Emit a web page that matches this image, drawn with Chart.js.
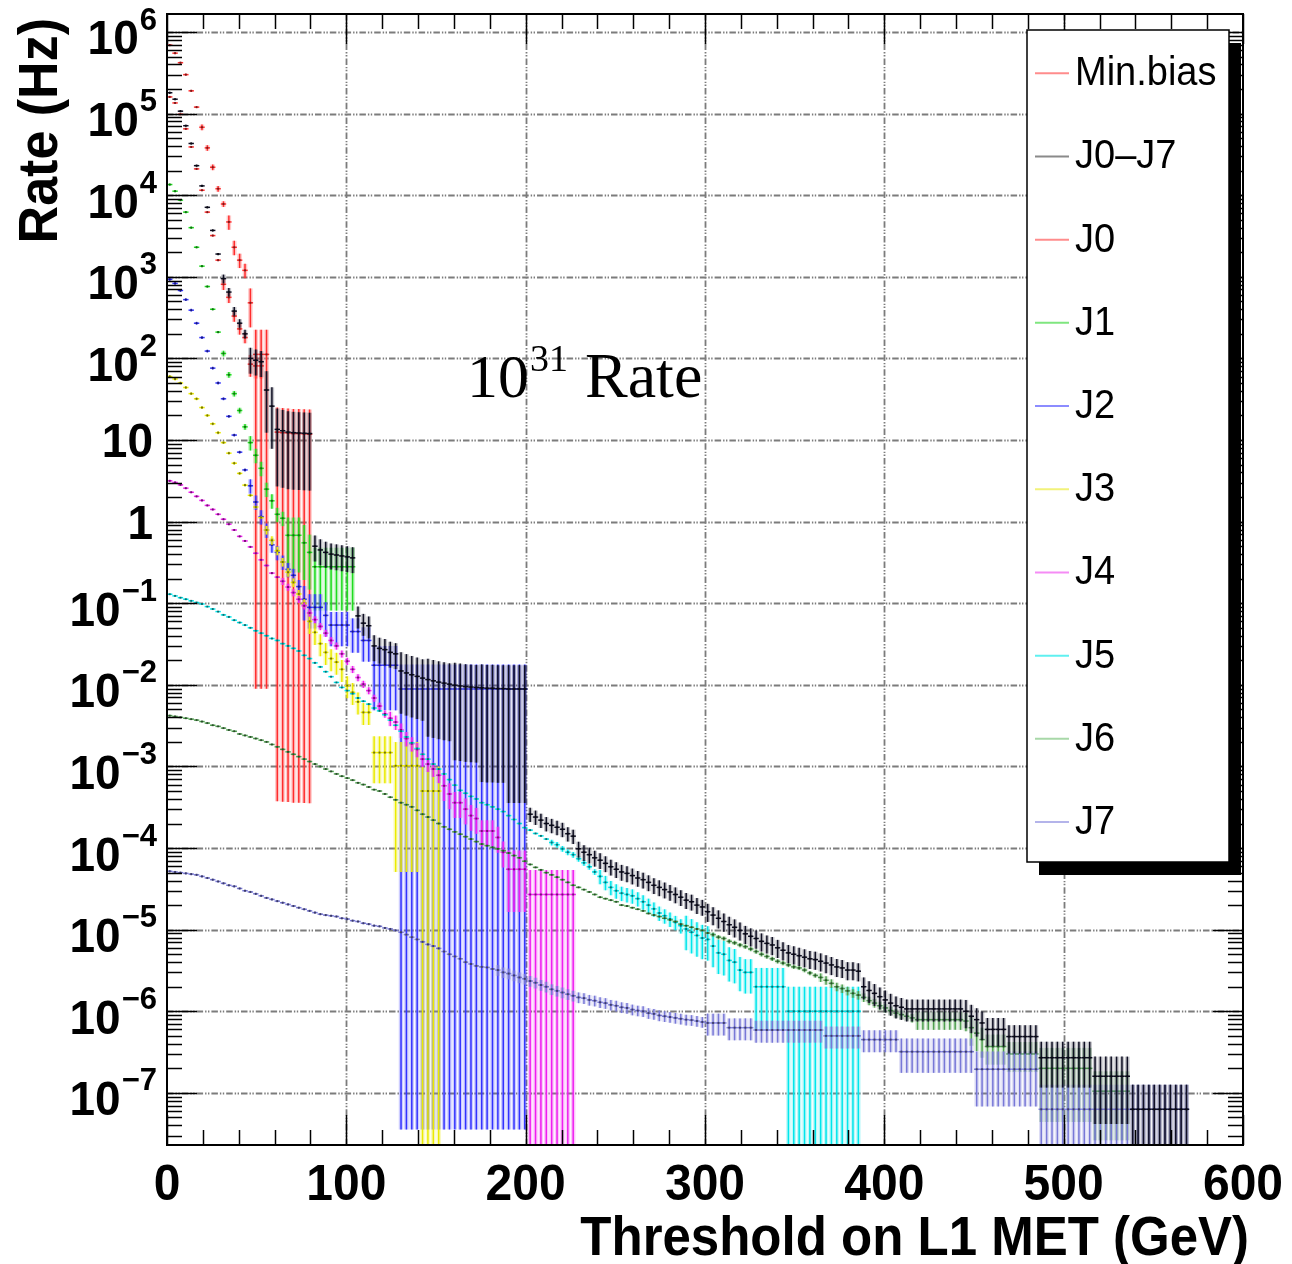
<!DOCTYPE html>
<html>
<head>
<meta charset="utf-8">
<title>Rate vs L1 MET threshold</title>
<script src="https://cdn.jsdelivr.net/npm/chart.js@4.4.1/dist/chart.umd.min.js"></script>
<style>
  html, body { margin: 0; padding: 0; background: #fff; }
  #wrap { width: 1292px; height: 1264px; }
</style>
</head>
<body>
<div id="wrap"><canvas id="rate-chart" width="1292" height="1264"></canvas></div>
<script>
// Threshold histograms: 3 GeV bins starting at 0 GeV
const binWidth = 3;
const firstBinCentre = 1.5;

const xTickLabels = [0, 100, 200, 300, 400, 500, 600];
const yDecades = [-7, -6, -5, -4, -3, -2, -1, 0, 1, 2, 3, 4, 5, 6];

// Rates in Hz per bin (null = empty bin); errors as [fromBin, toBin, relative error]
const minBiasRate = [
    6.9e5, 5.5e5, 4.2e5, 3.0e5, 1.9e5, 1.2e5, 6.8e4, 3.8e4, 2.2e4, 1.2e4,
    7.8e3, 4.7e3, 2.3e3, 1.6e3, 1.2e3, 480, 112, 112, 112, null,
    12.5, 12.3, 12.2, 12, 12, 11.9, 11.8,
];
const minBiasErr = [[0, 5, 0.03], [6, 10, 0.08], [11, 14, 0.2], [15, 15, 0.5], [16, 18, 0.99992], [20, 26, 0.99997]];

const jetSumRate = [
    1.8e5, 1.5e5, 1.07e5, 7.1e4, 4.3e4, 2.3e4, 1.3e4, 7.1e3, 3.7e3, 1.9e3,
    950, 650, 380, 270, 200, 100, 95, 91, 41, 26,
    13.5, 13, 12.5, 12.3, 12.2, 12.1, 12, 0.5, 0.45, 0.42,
    0.40, 0.39, 0.38, 0.37, 0.36, 0.070, 0.057, 0.053, 0.030, 0.028,
    0.027, 0.025, 0.024, 0.0148, 0.0140, 0.0133, 0.0127, 0.0121, 0.0116, 0.0112,
    0.0108, 0.0105, 0.0102, 0.0099, 0.0097, 0.0095, 0.0094, 0.0093, 0.0092, 0.0091,
    0.0091, 0.0090, 0.0090, 0.0089, 0.0089, 0.0089, 0.0089, 2.6e-4, 2.4e-4, 2.2e-4,
    2.0e-4, 1.9e-4, 1.8e-4, 1.7e-4, 1.5e-4, 1.4e-4, 9.8e-5, 8.9e-5, 8.3e-5, 7.6e-5,
    7.1e-5, 6.5e-5, 5.9e-5, 5.5e-5, 5.1e-5, 4.9e-5, 4.6e-5, 4.3e-5, 4.1e-5, 3.8e-5,
    3.5e-5, 3.3e-5, 3.1e-5, 2.9e-5, 2.7e-5, 2.5e-5, 2.3e-5, 2.2e-5, 2.0e-5, 1.9e-5,
    1.66e-5, 1.51e-5, 1.38e-5, 1.26e-5, 1.15e-5, 1.07e-5, 9.8e-6, 8.9e-6, 8.3e-6, 7.8e-6,
    7.2e-6, 6.8e-6, 6.5e-6, 6.0e-6, 5.6e-6, 5.2e-6, 5.0e-6, 4.8e-6, 4.6e-6, 4.4e-6,
    4.3e-6, 4.1e-6, 3.9e-6, 3.7e-6, 3.5e-6, 3.4e-6, 3.2e-6, 3.2e-6, 3.1e-6, 2.0e-6,
    1.8e-6, 1.66e-6, 1.51e-6, 1.38e-6, 1.26e-6, 1.17e-6, 1.12e-6, 1.07e-6, 1.07e-6, 1.07e-6,
    1.07e-6, 1.07e-6, 1.07e-6, 1.07e-6, 1.07e-6, 1.07e-6, 1.07e-6, 1.07e-6, 1.0e-6, 8.7e-7,
    7.9e-7, 7.2e-7, 6.0e-7, 6.0e-7, 6.0e-7, 6.0e-7, 4.9e-7, 4.9e-7, 4.9e-7, 4.9e-7,
    4.9e-7, 4.9e-7, 2.7e-7, 2.7e-7, 2.7e-7, 2.7e-7, 2.7e-7, 2.7e-7, 2.7e-7, 2.7e-7,
    2.7e-7, 2.7e-7, 1.6e-7, 1.6e-7, 1.6e-7, 1.6e-7, 1.6e-7, 1.6e-7, 1.6e-7, 6.3e-8,
    6.3e-8, 6.3e-8, 6.3e-8, 6.3e-8, 6.3e-8, 6.3e-8, 6.3e-8, 6.3e-8, 6.3e-8, 6.3e-8,
];
const jetSumErr = [
    [0, 9, 0.03], [10, 14, 0.12], [15, 17, 0.35], [18, 19, 0.7], [20, 26, 0.8], [27, 34, 0.35],
    [35, 37, 0.3], [38, 42, 0.35], [43, 47, 0.7], [48, 52, 0.8], [53, 57, 0.88], [58, 62, 0.93],
    [63, 66, 0.96], [67, 75, 0.2], [76, 99, 0.22], [100, 128, 0.25], [129, 147, 0.3],
    [148, 161, 0.38], [162, 171, 0.57], [172, 178, 0.74], [179, 189, 1],
];

const j0Rate = [
    1.6e5, 1.35e5, 9.8e4, 6.5e4, 3.9e4, 2.1e4, 1.15e4, 6.2e3, 3.2e3, 1.6e3,
    810, 560, 330, 230, 180, 85, 81, 81,
];
const j0Err = [[0, 9, 0.03], [10, 14, 0.15], [15, 17, 0.3]];

const j1Rate = [
    1.35e4, 1.12e4, 8.7e3, 6.2e3, 4.0e3, 2.3e3, 1.35e3, 760, 400, 210,
    115, 63, 37, 23, 14.5, 9.3, 6.5, 4.5, 2.5, 1.8,
    1.23, 1.1, 0.68, 0.68, 0.68, 0.55, 0.42, 0.28, 0.28, 0.28,
    0.28, 0.28, 0.28, 0.28, 0.28,
];
const j1Err = [[0, 9, 0.03], [10, 14, 0.08], [15, 21, 0.2], [22, 26, 0.65], [27, 34, 0.71]];

const j2Rate = [
    930, 830, 680, 525, 390, 270, 180, 123, 76, 50,
    32, 19.5, 11.5, 7.1, 4.3, 2.75, 1.74, 1.15, 0.79, 0.52,
    0.42, 0.32, 0.26, 0.22, 0.16, 0.112, 0.089, 0.089, 0.089, 0.071,
    0.054, 0.054, 0.054, 0.054, 0.045, 0.045, 0.035, 0.035, 0.0174, 0.0174,
    0.0174, 0.0174, 0.0174, 0.0089, 0.0089, 0.0089, 0.0089, 0.0089, 0.0089, 0.0089,
    0.0089, 0.0089, 0.0089, 0.0089, 0.0089, 0.0089, 0.0089, 0.0089, 0.0089, 0.0089,
    0.0089, 0.0089, 0.0089, 0.0089, 0.0089, 0.0089, 0.0089,
];
const j2Err = [[0, 14, 0.04], [15, 24, 0.2], [25, 37, 0.45], [38, 42, 0.72], [43, 66, 0.999996]];

const j3Rate = [
    60, 56, 50, 44, 37, 32, 25, 20, 15.8, 12.3,
    9.3, 6.9, 5.2, 3.9, 2.8, 2.1, 1.51, 1.12, 0.79, 0.59,
    0.44, 0.32, 0.24, 0.18, 0.13, 0.10, 0.060, 0.044, 0.032, 0.025,
    0.021, 0.019, 0.0155, 0.0098, 0.0081, 0.0062, 0.0046, 0.0046, 0.00148, 0.00148,
    0.00148, 0.00148, 0.00102, 0.00102, 0.00102, 0.00102, 0.00102, 0.0005, 0.0005, 0.0005,
    0.0005,
];
const j3Err = [[0, 17, 0.04], [18, 25, 0.12], [26, 37, 0.3], [38, 41, 0.58], [42, 46, 0.95], [47, 50, 1]];

const j4Rate = [
    3.16, 3.02, 2.82, 2.57, 2.29, 2.04, 1.82, 1.58, 1.41, 1.23,
    1.07, 0.93, 0.79, 0.66, 0.58, 0.49, 0.41, 0.34, 0.29, 0.234,
    0.209, 0.186, 0.158, 0.135, 0.112, 0.093, 0.076, 0.063, 0.052, 0.043,
    0.035, 0.030, 0.024, 0.0195, 0.0155, 0.0123, 0.0102, 0.0085, 0.0069, 0.0055,
    0.0044, 0.0039, 0.0035, 0.0028, 0.0022, 0.0019, 0.00162, 0.00123, 0.00107, 0.00093,
    0.00078, 0.00058, 0.00046, 0.00036, 0.00036, 0.0003, 0.00025, 0.00023, 0.000162, 0.000162,
    0.000162, 0.000135, 8.9e-5, 5.5e-5, 5.5e-5, 5.5e-5, 5.5e-5, 2.7e-5, 2.7e-5, 2.7e-5,
    2.7e-5, 2.7e-5, 2.7e-5, 2.7e-5, 2.7e-5, 2.7e-5,
];
const j4Err = [[0, 20, 0.03], [21, 40, 0.1], [41, 50, 0.2], [51, 62, 0.35], [63, 66, 0.7], [67, 75, 1]];

const j5Rate = [
    0.129, 0.123, 0.117, 0.112, 0.107, 0.102, 0.098, 0.091, 0.085, 0.079,
    0.072, 0.068, 0.062, 0.058, 0.054, 0.050, 0.046, 0.043, 0.040, 0.037,
    0.035, 0.032, 0.030, 0.028, 0.026, 0.023, 0.021, 0.0186, 0.0166, 0.0145,
    0.0126, 0.0107, 0.0093, 0.0085, 0.0078, 0.0069, 0.0063, 0.0058, 0.0052, 0.0048,
    0.0043, 0.0037, 0.0032, 0.0027, 0.0023, 0.00195, 0.00166, 0.00141, 0.00123, 0.00107,
    0.00093, 0.00081, 0.00069, 0.00059, 0.00051, 0.00047, 0.00043, 0.0004, 0.00036, 0.00034,
    0.00032, 0.0003, 0.00028, 0.00025, 0.000224, 0.0002, 0.000178, 0.000166, 0.000151, 0.000141,
    0.000129, 0.000117, 0.00011, 9.8e-5, 8.9e-5, 8.3e-5, 7.4e-5, 6.6e-5, 5.9e-5, 5.1e-5,
    4.5e-5, 3.8e-5, 3.3e-5, 3.0e-5, 2.8e-5, 2.7e-5, 2.6e-5, 2.4e-5, 2.2e-5, 2.0e-5,
    1.8e-5, 1.6e-5, 1.48e-5, 1.35e-5, 1.23e-5, 1.12e-5, 1.02e-5, 9.3e-6, 8.5e-6, 7.9e-6,
    7.6e-6, 6.3e-6, 5.2e-6, 5.0e-6, 4.2e-6, 4.0e-6, 3.2e-6, 3.0e-6, 3.0e-6, 2.0e-6,
    2.0e-6, 2.0e-6, 2.0e-6, 2.0e-6, 2.0e-6, 1.0e-6, 1.0e-6, 1.0e-6, 1.0e-6, 1.0e-6,
    1.0e-6, 1.0e-6, 1.0e-6, 1.0e-6, 1.0e-6, 1.0e-6, 1.0e-6, 1.0e-6, 1.0e-6,
];
const j5Err = [[0, 70, 0.02], [71, 79, 0.08], [80, 95, 0.2], [96, 108, 0.45], [109, 114, 0.7], [115, 128, 1]];

const j6Rate = [
    4.2e-3, 4.1e-3, 4.0e-3, 3.9e-3, 3.8e-3, 3.7e-3, 3.55e-3, 3.4e-3, 3.2e-3, 3.1e-3,
    2.95e-3, 2.8e-3, 2.7e-3, 2.5e-3, 2.4e-3, 2.3e-3, 2.2e-3, 2.1e-3, 2.0e-3, 1.86e-3,
    1.74e-3, 1.62e-3, 1.51e-3, 1.41e-3, 1.32e-3, 1.23e-3, 1.15e-3, 1.07e-3, 1.0e-3, 9.3e-4,
    8.7e-4, 8.1e-4, 7.6e-4, 7.2e-4, 6.8e-4, 6.3e-4, 6.0e-4, 5.6e-4, 5.2e-4, 5.0e-4,
    4.6e-4, 4.2e-4, 3.9e-4, 3.6e-4, 3.4e-4, 3.2e-4, 2.9e-4, 2.6e-4, 2.4e-4, 2.2e-4,
    2.0e-4, 1.82e-4, 1.7e-4, 1.58e-4, 1.48e-4, 1.38e-4, 1.29e-4, 1.2e-4, 1.12e-4, 1.07e-4,
    1.02e-4, 9.8e-5, 9.3e-5, 8.7e-5, 8.1e-5, 7.6e-5, 6.9e-5, 6.3e-5, 5.8e-5, 5.4e-5,
    5.0e-5, 4.7e-5, 4.4e-5, 4.1e-5, 3.8e-5, 3.5e-5, 3.3e-5, 3.1e-5, 2.9e-5, 2.7e-5,
    2.5e-5, 2.4e-5, 2.3e-5, 2.2e-5, 2.0e-5, 1.95e-5, 1.86e-5, 1.78e-5, 1.7e-5, 1.58e-5,
    1.51e-5, 1.45e-5, 1.38e-5, 1.32e-5, 1.26e-5, 1.17e-5, 1.12e-5, 1.07e-5, 1.02e-5, 9.8e-6,
    9.1e-6, 8.7e-6, 8.1e-6, 7.8e-6, 7.2e-6, 6.9e-6, 6.5e-6, 6.2e-6, 5.8e-6, 5.4e-6,
    5.0e-6, 4.7e-6, 4.4e-6, 4.1e-6, 3.9e-6, 3.7e-6, 3.5e-6, 3.4e-6, 3.2e-6, 2.95e-6,
    2.75e-6, 2.6e-6, 2.4e-6, 2.2e-6, 2.0e-6, 1.9e-6, 1.78e-6, 1.66e-6, 1.58e-6, 1.48e-6,
    1.35e-6, 1.26e-6, 1.17e-6, 1.1e-6, 1.02e-6, 9.5e-7, 9.1e-7, 8.7e-7, 8.3e-7, 7.9e-7,
    7.9e-7, 7.9e-7, 7.9e-7, 7.9e-7, 7.9e-7, 7.9e-7, 7.9e-7, 7.9e-7, 7.6e-7, 6.3e-7,
    5.4e-7, 4.5e-7, 3.7e-7, 3.7e-7, 3.7e-7, 3.7e-7, 3.0e-7, 3.0e-7, 3.0e-7, 3.0e-7,
    3.0e-7, 3.0e-7, 2.0e-7, 2.0e-7, 2.0e-7, 2.0e-7, 2.0e-7, 2.0e-7, 2.0e-7, 2.0e-7,
    2.0e-7, 2.0e-7, 1.05e-7, 1.05e-7, 1.05e-7, 1.05e-7, 1.05e-7, 1.05e-7, 1.05e-7,
];
const j6Err = [[0, 100, 0.02], [101, 120, 0.06], [121, 138, 0.12], [139, 148, 0.25], [149, 161, 0.4], [162, 171, 0.78], [172, 178, 0.75]];

const j7Rate = [
    5.2e-5, 5.1e-5, 5.0e-5, 4.9e-5, 4.8e-5, 4.7e-5, 4.5e-5, 4.3e-5, 4.1e-5, 3.9e-5,
    3.7e-5, 3.5e-5, 3.4e-5, 3.2e-5, 3.0e-5, 2.9e-5, 2.75e-5, 2.6e-5, 2.45e-5, 2.35e-5,
    2.24e-5, 2.14e-5, 2.04e-5, 1.95e-5, 1.86e-5, 1.78e-5, 1.7e-5, 1.62e-5, 1.55e-5, 1.51e-5,
    1.48e-5, 1.45e-5, 1.38e-5, 1.35e-5, 1.29e-5, 1.26e-5, 1.2e-5, 1.17e-5, 1.12e-5, 1.1e-5,
    1.05e-5, 1.02e-5, 9.8e-6, 9.3e-6, 8.7e-6, 8.1e-6, 7.6e-6, 7.1e-6, 6.6e-6, 6.3e-6,
    5.9e-6, 5.4e-6, 5.0e-6, 4.7e-6, 4.4e-6, 4.0e-6, 3.8e-6, 3.6e-6, 3.5e-6, 3.45e-6,
    3.3e-6, 3.2e-6, 3.0e-6, 2.9e-6, 2.75e-6, 2.6e-6, 2.5e-6, 2.35e-6, 2.24e-6, 2.1e-6,
    2.0e-6, 1.86e-6, 1.78e-6, 1.7e-6, 1.62e-6, 1.55e-6, 1.48e-6, 1.45e-6, 1.38e-6, 1.35e-6,
    1.29e-6, 1.26e-6, 1.2e-6, 1.17e-6, 1.12e-6, 1.1e-6, 1.05e-6, 1.02e-6, 1.0e-6, 9.5e-7,
    9.3e-7, 8.9e-7, 8.7e-7, 8.5e-7, 8.3e-7, 8.1e-7, 7.9e-7, 7.8e-7, 7.6e-7, 7.4e-7,
    7.2e-7, 7.2e-7, 7.2e-7, 7.2e-7, 6.3e-7, 6.3e-7, 6.3e-7, 6.3e-7, 6.3e-7, 5.9e-7,
    5.9e-7, 5.9e-7, 5.9e-7, 5.9e-7, 5.9e-7, 5.9e-7, 5.9e-7, 5.9e-7, 5.9e-7, 5.9e-7,
    5.9e-7, 5.9e-7, 5.0e-7, 5.0e-7, 5.0e-7, 5.0e-7, 5.0e-7, 5.0e-7, 5.0e-7, 4.5e-7,
    4.5e-7, 4.5e-7, 4.5e-7, 4.5e-7, 4.5e-7, 4.5e-7, 3.2e-7, 3.2e-7, 3.2e-7, 3.2e-7,
    3.2e-7, 3.2e-7, 3.2e-7, 3.2e-7, 3.2e-7, 3.2e-7, 3.2e-7, 3.2e-7, 3.2e-7, 3.2e-7,
    1.95e-7, 1.95e-7, 1.95e-7, 1.95e-7, 1.95e-7, 1.95e-7, 1.95e-7, 1.95e-7, 1.95e-7, 1.95e-7,
    1.95e-7, 1.95e-7, 6.3e-8, 6.3e-8, 6.3e-8, 6.3e-8, 6.3e-8, 6.3e-8, 6.3e-8, 6.3e-8,
    6.3e-8, 6.3e-8, 6.3e-8, 6.3e-8, 6.3e-8, 6.3e-8, 6.3e-8, 6.3e-8, 6.3e-8, 6.3e-8,
    6.3e-8, 6.3e-8, 6.3e-8, 6.3e-8, 6.3e-8, 6.3e-8, 6.3e-8, 6.3e-8, 6.3e-8, 6.3e-8,
];
const j7Err = [[0, 60, 0.03], [61, 99, 0.15], [100, 135, 0.3], [136, 149, 0.45], [150, 161, 0.65], [162, 189, 1]];

// legend order; colour = marker/error bar, legendColor = thin legend line
const series = [
    { label: 'Min.bias', rates: minBiasRate, errors: minBiasErr, color: 'rgb(255,45,45)', legendColor: '#ff8c8c' },
    { label: 'J0\u2013J7', rates: jetSumRate, errors: jetSumErr, color: 'rgb(15,15,35)', legendColor: '#8a8a8a' },
    { label: 'J0', rates: j0Rate, errors: j0Err, color: 'rgb(255,45,45)', legendColor: '#ff8c8c' },
    { label: 'J1', rates: j1Rate, errors: j1Err, color: 'rgb(30,220,30)', legendColor: '#7fe67f' },
    { label: 'J2', rates: j2Rate, errors: j2Err, color: 'rgb(50,50,255)', legendColor: '#8c8cff' },
    { label: 'J3', rates: j3Rate, errors: j3Err, color: 'rgb(235,235,0)', legendColor: '#f2f27a' },
    { label: 'J4', rates: j4Rate, errors: j4Err, color: 'rgb(240,30,240)', legendColor: '#f58cf5' },
    { label: 'J5', rates: j5Rate, errors: j5Err, color: 'rgb(0,230,235)', legendColor: '#5ff0f0' },
    { label: 'J6', rates: j6Rate, errors: j6Err, color: 'rgb(80,160,80)', legendColor: '#a8d8a8' },
    { label: 'J7', rates: j7Rate, errors: j7Err, color: 'rgb(120,120,215)', legendColor: '#b4b4ea' },
];

// paint order: the summed jets go on top of the single samples
const drawOrder = [0, 2, 3, 4, 5, 6, 7, 8, 9, 1];

function errorFor(segments, bin) {
    const seg = segments.find(([from, to]) => bin >= from && bin <= to);
    return seg ? seg[2] : 0;
}

function toPoints(rates, errors) {
    const points = [];
    rates.forEach((rate, bin) => {
        if (rate === null) {
            return;
        }
        points.push({ x: firstBinCentre + bin * binWidth, y: rate, err: errorFor(errors, bin) });
    });
    return points;
}

function strokeLine(ctx, x0, y0, x1, y1) {
    ctx.beginPath();
    ctx.moveTo(x0, y0);
    ctx.lineTo(x1, y1);
    ctx.stroke();
}

// text drawn slightly taller than wide, like the Helvetica in ROOT canvases
function stretchedText(ctx, text, px, py, stretch) {
    ctx.save();
    ctx.translate(px, py);
    ctx.scale(1, stretch);
    ctx.fillText(text, 0, 0);
    ctx.restore();
}

const SANS = '"Liberation Sans", Arial, Helvetica, sans-serif';
const SERIF = '"Liberation Serif", "Times New Roman", serif';

function drawGrid(chart) {
    const { ctx, chartArea: area, scales: { x, y } } = chart;
    ctx.save();
    ctx.strokeStyle = '#7c7c7c';
    ctx.lineWidth = 1.8;
    ctx.setLineDash([6.5, 2, 1.4, 1.5, 1.4, 2]);
    yDecades.forEach((e) => {
        const py = Math.round(y.getPixelForValue(10 ** e)) + 0.5;
        strokeLine(ctx, area.left, py, area.right, py);
    });
    xTickLabels.slice(1, -1).forEach((v) => {
        const px = Math.round(x.getPixelForValue(v)) + 0.5;
        strokeLine(ctx, px, area.top, px, area.bottom);
    });
    ctx.restore();
}

function drawHistograms(chart) {
    const { ctx, chartArea: area, scales: { x, y } } = chart;
    ctx.save();
    ctx.beginPath();
    ctx.rect(area.left, area.top, area.right - area.left, area.bottom - area.top);
    ctx.clip();
    drawOrder.forEach((index) => {
        const ds = chart.data.datasets[index];
        const bars = ds.data.map((p) => {
            const top = y.getPixelForValue(p.y * (1 + p.err));
            const bottom = p.err >= 1 ? area.bottom : y.getPixelForValue(p.y * (1 - p.err));
            return {
                px: x.getPixelForValue(p.x),
                x0: x.getPixelForValue(p.x - binWidth / 2),
                x1: x.getPixelForValue(p.x + binWidth / 2),
                py: y.getPixelForValue(p.y),
                top,
                bottom,
            };
        });
        ctx.strokeStyle = ds.borderColor;
        // soft halo round the error bars
        ctx.globalAlpha = 0.25;
        ctx.lineWidth = 4.5;
        bars.forEach((b) => {
            if (b.bottom - b.top > 3) {
                strokeLine(ctx, b.px, b.top, b.px, b.bottom);
            }
        });
        ctx.globalAlpha = 1;
        ctx.lineWidth = 1.5;
        bars.forEach((b) => {
            strokeLine(ctx, b.px, b.top, b.px, b.bottom);
            strokeLine(ctx, b.x0, b.py, b.x1, b.py);
        });
        ctx.fillStyle = 'rgba(0,0,0,0.5)';
        bars.forEach((b) => {
            ctx.fillRect(b.px - 1, b.py - 1, 2, 2);
        });
    });
    ctx.restore();
}

function drawFrameAndAxes(chart) {
    const { ctx, chartArea: area, scales: { x, y } } = chart;
    ctx.save();
    ctx.strokeStyle = '#000';
    ctx.lineWidth = 1.5;

    // x ticks every 20 GeV, long ones on the labelled values
    for (let v = x.min; v <= x.max; v += 20) {
        const px = Math.round(x.getPixelForValue(v)) + 0.5;
        const len = v % 100 === 0 ? 30 : 15;
        strokeLine(ctx, px, area.bottom, px, area.bottom - len);
        strokeLine(ctx, px, area.top, px, area.top + len);
    }
    // log ticks: decades long, 2..9 short
    for (let e = -8; e <= 6; e++) {
        for (let m = 1; m <= 9; m++) {
            const v = m * 10 ** e;
            if (v < y.min || v > y.max) {
                continue;
            }
            const py = Math.round(y.getPixelForValue(v)) + 0.5;
            const len = m === 1 ? 30 : 15;
            strokeLine(ctx, area.left, py, area.left + len, py);
            strokeLine(ctx, area.right, py, area.right - len, py);
        }
    }

    ctx.lineWidth = 2;
    ctx.strokeRect(area.left, area.top, area.right - area.left, area.bottom - area.top);

    ctx.fillStyle = '#000';
    ctx.font = `bold 48px ${SANS}`;
    ctx.textAlign = 'center';
    ctx.textBaseline = 'alphabetic';
    xTickLabels.forEach((v) => {
        stretchedText(ctx, String(v), x.getPixelForValue(v), 1200, 1.06);
    });

    const labelRight = 157;
    yDecades.forEach((e) => {
        const py = y.getPixelForValue(10 ** e);
        ctx.textAlign = 'right';
        ctx.textBaseline = 'middle';
        if (e === 0 || e === 1) {
            ctx.font = `bold 46px ${SANS}`;
            stretchedText(ctx, e === 0 ? '1' : '10', labelRight - 4, py + 4, 1.06);
            return;
        }
        const sup = e < 0 ? `\u2212${-e}` : String(e);
        ctx.font = `bold 31px ${SANS}`;
        const supWidth = ctx.measureText(sup).width;
        ctx.fillText(sup, labelRight, py - 11);
        ctx.font = `bold 46px ${SANS}`;
        stretchedText(ctx, '10', labelRight - supWidth - 1, py + 9, 1.06);
    });

    ctx.font = `bold 51px ${SANS}`;
    ctx.textAlign = 'right';
    ctx.textBaseline = 'alphabetic';
    stretchedText(ctx, 'Threshold on L1 MET (GeV)', 1249, 1255, 1.1);

    ctx.save();
    ctx.translate(57, 18);
    ctx.rotate(-Math.PI / 2);
    ctx.scale(1.02, 1.08);
    ctx.textAlign = 'right';
    ctx.fillText('Rate (Hz)', 0, 0);
    ctx.restore();

    ctx.restore();
}

function drawLegend(chart) {
    const { ctx } = chart;
    const box = { left: 1027, top: 30, right: 1229, bottom: 862 };
    ctx.save();
    ctx.fillStyle = '#000';
    ctx.fillRect(box.left + 12, box.top + 13, box.right - box.left, box.bottom - box.top);
    ctx.fillStyle = '#fff';
    ctx.fillRect(box.left, box.top, box.right - box.left, box.bottom - box.top);
    ctx.strokeStyle = '#000';
    ctx.lineWidth = 1.5;
    ctx.strokeRect(box.left, box.top, box.right - box.left, box.bottom - box.top);

    const rowStep = (box.bottom - box.top) / series.length;
    ctx.font = `38px ${SANS}`;
    ctx.textAlign = 'left';
    ctx.textBaseline = 'middle';
    series.forEach((s, i) => {
        const cy = box.top + rowStep * (i + 0.52);
        ctx.strokeStyle = s.legendColor;
        ctx.lineWidth = 2;
        strokeLine(ctx, box.left + 8, cy, box.left + 42, cy);
        ctx.fillStyle = '#000';
        stretchedText(ctx, s.label, box.left + 48, cy + 1, 1.05);
    });
    ctx.restore();
}

function drawLuminosityTag(chart) {
    const { ctx } = chart;
    ctx.save();
    ctx.fillStyle = '#000';
    ctx.textAlign = 'left';
    ctx.textBaseline = 'alphabetic';
    ctx.font = `62px ${SERIF}`;
    ctx.fillText('10', 467, 397);
    const base = ctx.measureText('10').width;
    ctx.font = `38px ${SERIF}`;
    ctx.fillText('31', 467 + base + 1, 371);
    const supWidth = ctx.measureText('31').width;
    ctx.font = `64px ${SERIF}`;
    ctx.fillText('Rate', 467 + base + supWidth + 18, 397);
    ctx.restore();
}

const rootStylePlugin = {
    id: 'rootStyle',
    beforeDatasetsDraw(chart) {
        drawGrid(chart);
    },
    afterDatasetsDraw(chart) {
        drawHistograms(chart);
        drawFrameAndAxes(chart);
        drawLegend(chart);
        drawLuminosityTag(chart);
    },
};

const canvas = document.getElementById('rate-chart');

// eslint-disable-next-line no-new
new Chart(canvas, {
    type: 'scatter',
    data: {
        datasets: series.map((s) => ({
            label: s.label,
            data: toPoints(s.rates, s.errors),
            borderColor: s.color,
            backgroundColor: s.color,
            showLine: false,
            pointRadius: 0,
            pointHoverRadius: 0,
        })),
    },
    options: {
        responsive: false,
        animation: false,
        devicePixelRatio: 1,
        layout: {
            padding: { left: 167, right: 49, top: 14, bottom: 119 },
        },
        plugins: {
            legend: { display: false },
            tooltip: { enabled: false },
        },
        events: [],
        scales: {
            x: { type: 'linear', min: 0, max: 600, display: false },
            y: { type: 'logarithmic', min: 2.3e-8, max: 1.66e6, display: false },
        },
    },
    plugins: [rootStylePlugin],
});
</script>
</body>
</html>
